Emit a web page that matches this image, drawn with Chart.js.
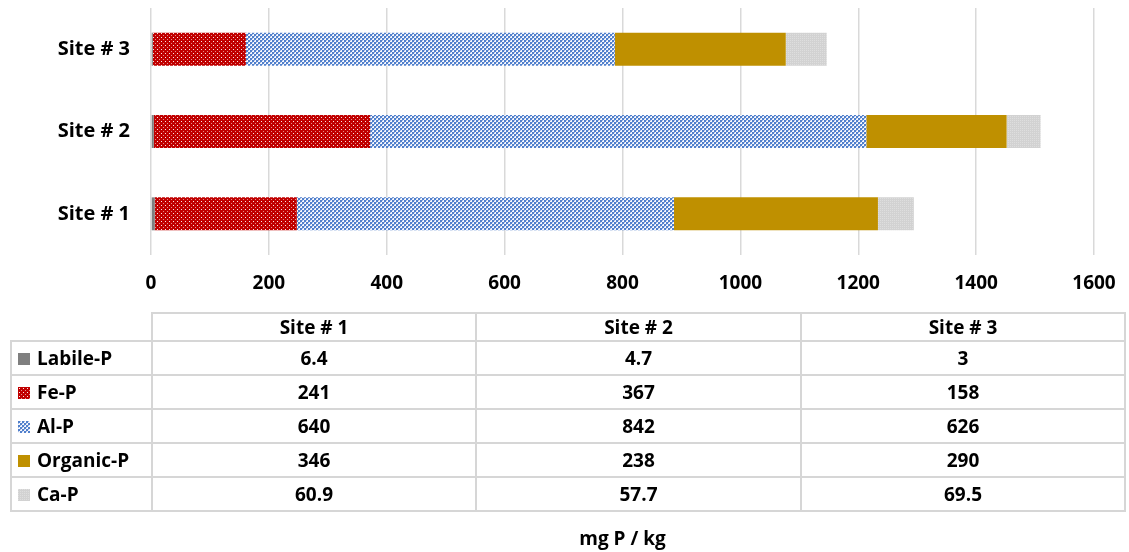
<!DOCTYPE html>
<html>
<head>
<meta charset="utf-8">
<script src="https://cdn.jsdelivr.net/npm/chart.js@4"></script>
<style>
  body { margin: 0; background: #fff; }
  #wrap { position: relative; width: 1129px; height: 552px; }
  #chart { position: absolute; left: 0; top: 0; }
  #dataTable {
    position: absolute; left: 10px; top: 312px;
    border-collapse: collapse; table-layout: fixed;
    font-family: "Open Sans", Lato, sans-serif; font-weight: 700; font-size: 19px; color: #000;
  }
  #dataTable td, #dataTable th { border: 2px solid #d6d6d6; padding: 0; text-align: center; font-weight: 700; line-height: 20px; }
  #dataTable th { height: 26px; }
  #dataTable td { height: 32px; }
  #dataTable th.blank { border-top: none; border-left: none; }
  #dataTable td.name { text-align: left; padding-left: 6px; white-space: nowrap; }
  .key { display: inline-block; width: 12px; height: 12px; margin-right: 7px; vertical-align: 0px; }
</style>
</head>
<body>
<div id="wrap">
  <canvas id="chart" width="1129" height="552"></canvas>
  <table id="dataTable"></table>
</div>
<script>
// phosphorus fractions per site, mg P / kg
const sites = ['Site # 1', 'Site # 2', 'Site # 3'];
const labileP = [6.4, 4.7, 3];
const feP = [241, 367, 158];
const alP = [640, 842, 626];
const organicP = [346, 238, 290];
const caP = [60.9, 57.7, 69.5];
const seriesNames = ['Labile-P', 'Fe-P', 'Al-P', 'Organic-P', 'Ca-P'];
const xMin = 0, xMax = 1600, xStep = 200;

// small tiles used as fill patterns (Excel-like hatches)
function makeTile(size, draw) {
  const c = document.createElement('canvas');
  c.width = size; c.height = size;
  draw(c.getContext('2d'));
  return c;
}
const tiles = [
  makeTile(4, g => { g.fillStyle = '#7f7f7f'; g.fillRect(0, 0, 4, 4); }),
  makeTile(4, g => {
    g.fillStyle = '#c00000'; g.fillRect(0, 0, 4, 4);
    g.fillStyle = 'rgba(255,255,255,0.9)'; g.fillRect(1, 1, 1, 1);
    g.fillStyle = 'rgba(255,255,255,0.55)'; g.fillRect(3, 3, 1, 1);
  }),
  makeTile(4, g => {
    g.fillStyle = '#f4f6fc'; g.fillRect(0, 0, 4, 4);
    g.fillStyle = '#5080cc'; g.fillRect(0, 0, 2, 2); g.fillRect(2, 2, 2, 2);
    g.fillStyle = '#a3b9e4'; g.fillRect(2, 0, 1, 1); g.fillRect(0, 2, 1, 1);
  }),
  makeTile(4, g => { g.fillStyle = '#bf9000'; g.fillRect(0, 0, 4, 4); }),
  makeTile(2, g => {
    g.fillStyle = '#d2d2d2'; g.fillRect(0, 0, 2, 2);
    g.fillStyle = '#dedede'; g.fillRect(0, 0, 1, 1);
  })
];

const ctx = document.getElementById('chart').getContext('2d');
const fills = tiles.map(t => ctx.createPattern(t, 'repeat'));
const values = [labileP, feP, alP, organicP, caP];

const tickFont = { family: '"Open Sans", Lato, sans-serif', size: 19, weight: 'bold' };

new Chart(ctx, {
  type: 'bar',
  data: {
    labels: sites,
    datasets: seriesNames.map((name, i) => ({
      label: name,
      data: values[i],
      backgroundColor: fills[i],
      borderWidth: 0,
      barPercentage: 0.4,
      categoryPercentage: 1
    }))
  },
  options: {
    indexAxis: 'y',
    responsive: false,
    animation: false,
    layout: { padding: { left: 0, top: 8, right: 35, bottom: 0 } },
    plugins: { legend: { display: false }, tooltip: { enabled: false } },
    scales: {
      x: {
        stacked: true,
        min: xMin, max: xMax,
        ticks: { stepSize: xStep, color: '#000', font: tickFont, padding: 17, callback: v => String(v) },
        grid: { color: '#d9d9d9', lineWidth: 1.5, drawTicks: false },
        border: { display: false },
        title: { display: true, text: 'mg P / kg', color: '#000', font: tickFont, padding: { top: 0, bottom: 1 } },
        afterFit: s => { s.height = 297; s.paddingLeft = 0; s.paddingRight = 0; }
      },
      y: {
        stacked: true,
        reverse: true,
        ticks: { color: '#000', font: { family: tickFont.family, size: 20, weight: 'bold' }, padding: 13 },
        grid: { display: false },
        border: { display: false },
        afterFit: s => { s.width = 151; s.paddingTop = 0; s.paddingBottom = 0; }
      }
    }
  }
});

// data table under the chart
const table = document.getElementById('dataTable');
const colW = [141, 324, 325, 324];
let html = '<colgroup>' + colW.map(w => '<col style="width:' + w + 'px">').join('') + '</colgroup>';
html += '<tr><th class="blank"></th>' + sites.map(s => '<th>' + s + '</th>').join('') + '</tr>';
seriesNames.forEach((name, i) => {
  html += '<tr><td class="name"><span class="key" style="background-image:url(' +
    tiles[i].toDataURL() + ')"></span>' + name + '</td>' +
    values[i].map(v => '<td>' + v + '</td>').join('') + '</tr>';
});
table.innerHTML = html;
</script>
</body>
</html>
